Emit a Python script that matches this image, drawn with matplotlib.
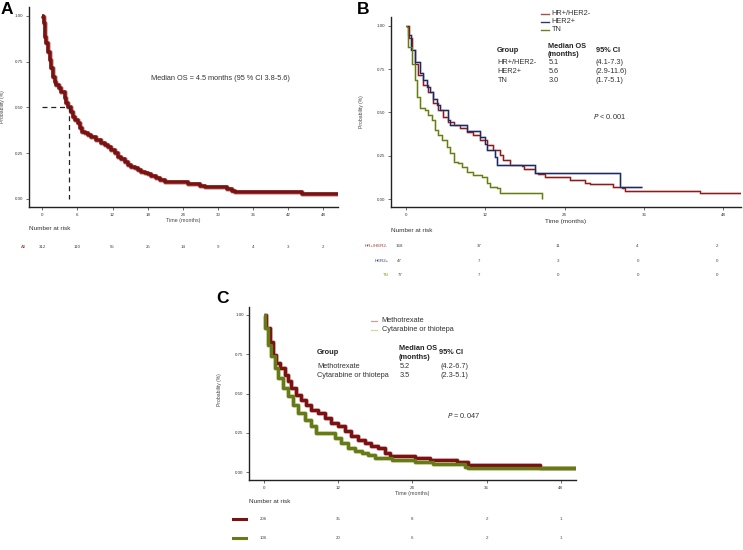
import matplotlib
matplotlib.use("Agg")
import matplotlib.pyplot as plt
from matplotlib.transforms import blended_transform_factory

plt.rcParams['font.family'] = ['Liberation Sans', 'DejaVu Sans']

# ---------------- data ----------------
# Panel A: all patients
a_time = [0, 0.12, 0.23, 0.4, 0.52, 0.69, 0.97, 1.26, 1.54, 1.83, 2.1, 2.4, 2.8, 3.25, 3.8, 4.1, 4.4,
          4.85, 5.24, 5.65, 6.1, 6.4, 6.7, 7.25, 7.8, 8.4, 9.2, 10.1, 10.65, 11.2, 11.8, 12.4, 12.9,
          13.5, 14.1, 14.6, 15.2, 15.8, 16.35, 16.9, 17.5, 18.05, 18.6, 19.5, 20.1, 21.0, 24.9, 26.9,
          27.8, 31.5, 32.4, 32.9, 44.3, 50.9]
a_surv = [1.0, 0.996, 0.96, 0.923, 0.887, 0.851, 0.805, 0.76, 0.714, 0.668, 0.641, 0.623, 0.605,
          0.586, 0.55, 0.523, 0.50, 0.477, 0.45, 0.432, 0.413, 0.386, 0.368, 0.359, 0.35, 0.34, 0.322,
          0.308, 0.295, 0.286, 0.268, 0.25, 0.231, 0.217, 0.204, 0.186, 0.177, 0.168, 0.158, 0.149,
          0.14, 0.135, 0.127, 0.113, 0.104, 0.091, 0.08, 0.073, 0.064, 0.053, 0.045, 0.036, 0.027, 0.027]
a_median = 4.5
a_risk_times = [0, 6, 12, 18, 24, 30, 36, 42, 48]
a_risk = [312, 110, 55, 25, 14, 9, 4, 3, 2]

# Panel B: subtypes
b_groups = ["HR+/HER2-", "HER2+", "TN"]
b_hr_time = [0, 0.5, 0.86, 1.36, 1.86, 2.6, 3.4, 4.1, 4.9, 5.65, 6.4, 7.2, 8.2, 9.2, 10.2, 11.2, 12.2,
             13.2, 14.2, 14.7, 15.8, 17.5, 17.8, 19.5, 20.05, 21.1, 24.8, 27.1, 27.9, 31.4, 32.7, 33.2,
             44.5, 50.9]
b_hr_surv = [1.0, 0.927, 0.86, 0.78, 0.715, 0.658, 0.62, 0.552, 0.513, 0.475, 0.446, 0.427, 0.408,
             0.388, 0.369, 0.34, 0.31, 0.283, 0.254, 0.225, 0.196, 0.19, 0.171, 0.148, 0.142, 0.129,
             0.11, 0.094, 0.085, 0.071, 0.062, 0.046, 0.033, 0.033]
b_her2_time = [0, 0.35, 0.7, 1.36, 2.1, 2.6, 3.1, 3.6, 4.1, 4.65, 5.15, 6.4, 6.7, 9.2, 11.2, 11.9, 12.2,
               13.5, 13.7, 19.5, 32.4, 35.7]
b_her2_surv = [1.0, 0.946, 0.86, 0.79, 0.725, 0.687, 0.648, 0.62, 0.58, 0.54, 0.513, 0.456, 0.427,
               0.39, 0.36, 0.32, 0.28, 0.245, 0.196, 0.148, 0.071, 0.071]
b_tn_time = [0, 0.1, 0.35, 0.86, 1.36, 1.6, 2.1, 2.9, 3.4, 3.9, 4.4, 4.9, 5.4, 6.2, 6.7, 7.2, 7.9, 8.4,
             9.2, 10.2, 11.5, 12.2, 12.7, 13.7, 14.2, 20.55, 20.55]
b_tn_surv = [1.0, 0.994, 0.88, 0.78, 0.687, 0.59, 0.523, 0.513, 0.485, 0.456, 0.40, 0.37, 0.34, 0.30,
             0.264, 0.215, 0.206, 0.186, 0.158, 0.138, 0.129, 0.09, 0.071, 0.062, 0.036, 0.0, 0.0]
b_risk_times = [0, 12, 24, 36, 48]
b_risk = {"HR+/HER2-": [168, 37, 11, 4, 2],
          "HER2+": [47, 7, 3, 0, 0],
          "TN": [77, 7, 0, 0, 0]}
b_table_rows = [("HR+/HER2-", "5.1", "(4.1-7.3)"),
                ("HER2+", "5.6", "(2.9-11.6)"),
                ("TN", "3.0", "(1.7-5.1)")]

# Panel C: treatment
c_groups = ["Methotrexate", "Cytarabine or thiotepa"]
c_mtx_time = [0, 0.16, 0.43, 0.96, 1.5, 2.04, 2.58, 3.4, 3.93, 4.46, 5.27, 6.07, 6.9, 7.7, 8.77, 9.85,
              10.9, 12.0, 13.1, 14.15, 15.2, 16.3, 17.4, 18.5, 19.6, 20.4, 24.4, 26.9, 31.2, 33.05,
              44.6, 50.6]
c_mtx_surv = [1.0, 1.0, 0.916, 0.83, 0.746, 0.694, 0.662, 0.62, 0.577, 0.535, 0.492, 0.46, 0.43,
              0.397, 0.376, 0.345, 0.313, 0.292, 0.26, 0.228, 0.207, 0.186, 0.165, 0.154, 0.12, 0.105,
              0.09, 0.078, 0.063, 0.044, 0.025, 0.025]
c_cyt_time = [0, 0.27, 0.7, 1.23, 1.77, 2.3, 3.1, 3.93, 4.73, 5.54, 6.6, 7.7, 8.5, 11.5, 12.5, 13.6,
              14.7, 15.8, 16.85, 17.9, 20.7, 24.4, 27.4, 32.5, 33.0, 50.6]
c_cyt_surv = [1.0, 0.916, 0.81, 0.736, 0.662, 0.598, 0.535, 0.482, 0.43, 0.376, 0.334, 0.292, 0.249,
              0.218, 0.186, 0.154, 0.133, 0.122, 0.112, 0.091, 0.078, 0.063, 0.053, 0.036, 0.025, 0.025]
c_risk_times = [0, 12, 24, 36, 48]
c_risk = {"Methotrexate": [206, 35, 8, 2, 1],
          "Cytarabine or thiotepa": [106, 20, 6, 2, 1]}
c_table_rows = [("Methotrexate", "5.2", "(4.2-6.7)"),
                ("Cytarabine or thiotepa", "3.5", "(2.3-5.1)")]

yticks = [0, 0.25, 0.5, 0.75, 1.0]
ytick_labels = ["0.00", "0.25", "0.50", "0.75", "1.00"]

# ---------------- figure ----------------
W, H = 743, 550
fig = plt.figure(figsize=(W / 100, H / 100), dpi=100)


def add_ax(left, top, right, bottom):
    return fig.add_axes([left / W, 1 - bottom / H, (right - left) / W, (bottom - top) / H])


def fx(x):
    return x / W


def fy(y):
    return 1 - y / H


def style(ax, xlim, ylim, xticks):
    ax.set_xlim(*xlim)
    ax.set_ylim(*ylim)
    for s in ("top", "right"):
        ax.spines[s].set_visible(False)
    for s in ("left", "bottom"):
        ax.spines[s].set_linewidth(1.0)
        ax.spines[s].set_color("#222222")
    ax.set_yticks(yticks)
    ax.set_yticklabels(ytick_labels)
    ax.set_xticks(xticks)
    ax.tick_params(labelsize=3.2, length=2, width=0.5, colors="#333333", pad=2)
    ax.set_facecolor("none")


def km(ax, t, s, color, halo, lw, extra):
    ax.step(t, s, where="post", color=halo, lw=lw + extra, solid_capstyle="butt", zorder=2)
    ax.step(t, s, where="post", color=color, lw=lw, solid_capstyle="butt", zorder=3)


red = "#7a1212"
red_halo = "#d9b0b0"
navy = "#1f2a5c"
navy_halo = "#aab2cf"
olive = "#667a1a"
olive_halo = "#d0d9aa"

# ---------------- Panel A ----------------
axA = add_ax(29, 7, 338, 207)
style(axA, (-2.27, 50.5), (-0.044, 1.049), a_risk_times)
km(axA, a_time, a_surv, red, red_halo, 2.6, 0.9)
axA.plot([0, a_median], [0.5, 0.5], ls=(0, (4, 3)), color="#222222", lw=0.9, zorder=4)
axA.plot([a_median, a_median], [0.5, 0], ls=(0, (4, 3)), color="#222222", lw=0.9, zorder=4)
fig.text(fx(151), fy(79), "Median OS = 4.5 months (95 % CI 3.8-5.6)",
         fontsize=5.3, color="#333333", va="center", ha="left")
fig.text(fx(3), fy(107), "Probability (%)", rotation=90, fontsize=3.6, color="#444444",
         va="center", ha="center")
fig.text(fx(183), fy(220.5), "Time (months)", fontsize=3.8, color="#444444", ha="center", va="center")
fig.text(fx(28.7), fy(228), "Number at risk", fontsize=4.6, color="#333333", ha="left", va="center")
trA = blended_transform_factory(axA.transData, fig.transFigure)
fig.text(fx(23.3), fy(246.7), "All", fontsize=3.2, color="#a03030", ha="center", va="center")
for t, n in zip(a_risk_times, a_risk):
    axA.text(t, fy(246.7), str(n), transform=trA, fontsize=3.2, color="#444444",
             ha="center", va="center", clip_on=False)
fig.text(fx(0.5), fy(10), "A", fontsize=12.5, fontweight="bold", ha="left", va="center")

# ---------------- Panel B ----------------
axB = add_ax(390.7, 16.7, 741, 207)
style(axB, (-2.32, 50.7), (-0.046, 1.052), b_risk_times)
km(axB, b_hr_time, b_hr_surv, "#8b1c1c", red_halo, 0.8, 1.0)
km(axB, b_her2_time, b_her2_surv, navy, navy_halo, 0.8, 1.0)
km(axB, b_tn_time, b_tn_surv, olive, olive_halo, 0.8, 1.0)
fig.text(fx(361), fy(112), "Probability (%)", rotation=90, fontsize=3.6, color="#444444",
         va="center", ha="center")
fig.text(fx(565.7), fy(221), "Time (months)", fontsize=4.6, color="#333333", ha="center", va="center")
fig.text(fx(363), fy(10), "B", fontsize=12.5, fontweight="bold", ha="center", va="center")

leg_cols = ["#a5504f", "#2e3a6e", "#6e8020"]
for i, (g, c) in enumerate(zip(b_groups, leg_cols)):
    y = 13.7 + 8 * i
    fig.add_artist(plt.Line2D([fx(541), fx(549)], [fy(y), fy(y)], color=c, lw=1.0))
    fig.text(fx(551.7), fy(y), g, fontsize=5.3, color="#333333", ha="left", va="center")

fig.text(fx(496.7), fy(50), "Group", fontsize=5.3, fontweight="bold", color="#222222", va="center")
fig.text(fx(547.7), fy(46.7), "Median OS", fontsize=5.3, fontweight="bold", color="#222222", va="center")
fig.text(fx(547.7), fy(54.5), "(months)", fontsize=5.3, fontweight="bold", color="#222222", va="center")
fig.text(fx(596), fy(50), "95% CI", fontsize=5.3, fontweight="bold", color="#222222", va="center")
for i, (g, m, ci) in enumerate(b_table_rows):
    y = 62.3 + 9.2 * i
    fig.text(fx(497.5), fy(y), g, fontsize=5.3, color="#333333", va="center")
    fig.text(fx(548.5), fy(y), m, fontsize=5.3, color="#333333", va="center")
    fig.text(fx(596), fy(y), ci, fontsize=5.3, color="#333333", va="center")
fig.text(fx(592.7), fy(116.7), r"$\it{P}$ < 0.001", fontsize=5.3, color="#333333", va="center")

fig.text(fx(390.7), fy(230.7), "Number at risk", fontsize=4.6, color="#333333", ha="left", va="center")
trB = blended_transform_factory(axB.transData, fig.transFigure)
b_label_cols = ["#a03535", "#2e3a7a", "#8a9a30"]
for i, (g, c) in enumerate(zip(b_groups, b_label_cols)):
    y = 246.3 + 14.2 * i
    fig.text(fx(388.3), fy(y), g, fontsize=3.2, color=c, ha="right", va="center")
    for t, n in zip(b_risk_times, b_risk[g]):
        axB.text(t - 0.95, fy(y), str(n), transform=trB, fontsize=3.2, color="#444444",
                 ha="center", va="center", clip_on=False)

# ---------------- Panel C ----------------
axC = add_ax(249.3, 306.7, 576, 480)
style(axC, (-2.33, 50.45), (-0.049, 1.051), c_risk_times)
km(axC, c_mtx_time, c_mtx_surv, red, red_halo, 2.4, 0.9)
km(axC, c_cyt_time, c_cyt_surv, olive, olive_halo, 2.4, 0.9)
fig.text(fx(219), fy(390), "Probability (%)", rotation=90, fontsize=3.6, color="#444444",
         va="center", ha="center")
fig.text(fx(412.3), fy(493.7), "Time (months)", fontsize=3.8, color="#444444", ha="center", va="center")
fig.text(fx(222.5), fy(298.5), "C", fontsize=12.5, fontweight="bold", ha="center", va="center")

c_leg_cols = ["#c9a0a0", "#cfd8a8"]
for i, (g, c) in enumerate(zip(c_groups, c_leg_cols)):
    y = 320.7 + 9 * i
    fig.add_artist(plt.Line2D([fx(370.7), fx(377)], [fy(y), fy(y)], color=c, lw=0.9))
    fig.text(fx(381.7), fy(y), g, fontsize=5.3, color="#333333", ha="left", va="center")

fig.text(fx(316.7), fy(352.7), "Group", fontsize=5.3, fontweight="bold", color="#222222", va="center")
fig.text(fx(399), fy(348.7), "Median OS", fontsize=5.3, fontweight="bold", color="#222222", va="center")
fig.text(fx(399), fy(357.7), "(months)", fontsize=5.3, fontweight="bold", color="#222222", va="center")
fig.text(fx(439.3), fy(352.7), "95% CI", fontsize=5.3, fontweight="bold", color="#222222", va="center")
for i, (g, m, ci) in enumerate(c_table_rows):
    y = 366.7 + 8.7 * i
    fig.text(fx(317.3), fy(y), g, fontsize=5.3, color="#333333", va="center")
    fig.text(fx(399.5), fy(y), m, fontsize=5.3, color="#333333", va="center")
    fig.text(fx(440), fy(y), ci, fontsize=5.3, color="#333333", va="center")
fig.text(fx(447.3), fy(416), r"$\it{P}$ = 0.047", fontsize=5.3, color="#333333", va="center")

fig.text(fx(249), fy(501.7), "Number at risk", fontsize=4.6, color="#333333", ha="left", va="center")
trC = blended_transform_factory(axC.transData, fig.transFigure)
for i, (g, c) in enumerate(zip(c_groups, [red, olive])):
    y = 519 + 19.3 * i
    fig.add_artist(plt.Line2D([fx(233), fx(245.7)], [fy(y), fy(y)], color=c, lw=2.2))
    for t, n in zip(c_risk_times, c_risk[g]):
        axC.text(t, fy(y), str(n), transform=trC, fontsize=3.2, color="#444444",
                 ha="center", va="center", clip_on=False)

fig.savefig("out.png", dpi=100)
